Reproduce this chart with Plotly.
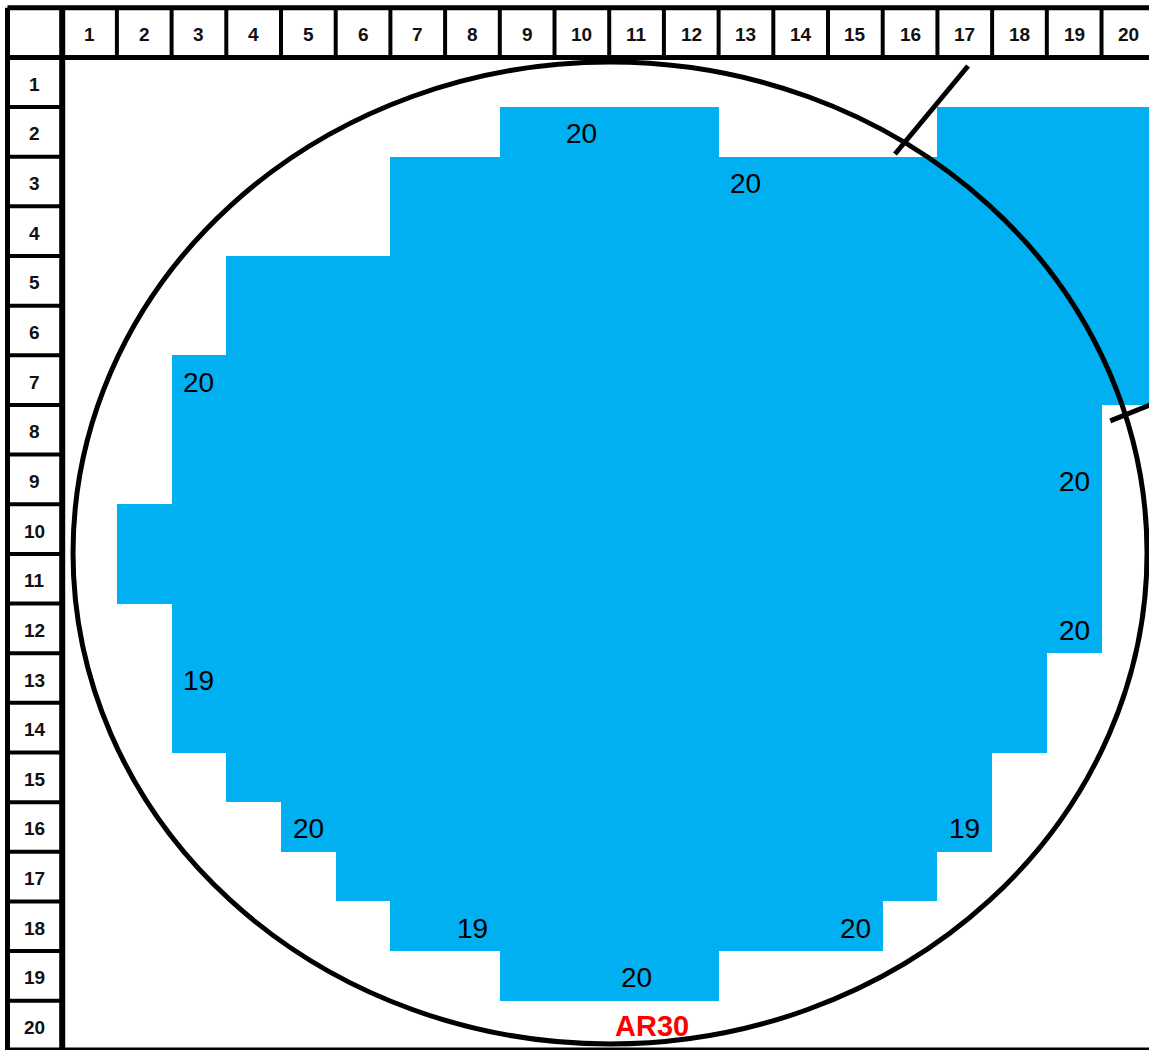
import plotly.graph_objects as go

# ---------------- data ----------------
n_cols = 20
n_rows = 20
column_labels = [str(i) for i in range(1, 21)]
row_labels = [str(i) for i in range(1, 21)]

# filled (blue) dies per row: list of (first column, last column) segments
row_numbers = list(range(1, 21))
filled_segments = [
    [],                 # row 1
    [(9, 12), (17, 20)],  # row 2
    [(7, 20)],          # row 3
    [(7, 20)],          # row 4
    [(4, 20)],          # row 5
    [(4, 20)],          # row 6
    [(3, 20)],          # row 7
    [(3, 19)],          # row 8
    [(3, 19)],          # row 9
    [(2, 19)],          # row 10
    [(2, 19)],          # row 11
    [(3, 19)],          # row 12
    [(3, 18)],          # row 13
    [(3, 18)],          # row 14
    [(4, 17)],          # row 15
    [(5, 17)],          # row 16
    [(6, 16)],          # row 17
    [(7, 15)],          # row 18
    [(9, 12)],          # row 19
    [],                 # row 20
]

# die count labels
label_rows = [2, 3, 7, 9, 12, 13, 16, 16, 18, 18, 19]
label_cols = [10, 13, 3, 19, 19, 3, 5, 17, 8, 15, 11]
label_values = ["20", "20", "20", "20", "20", "19", "20", "19", "19", "20", "20"]

wafer_name = "AR30"
wafer_name_row = 20
wafer_name_col = 11

# wafer outline (in cell units)
wafer_cx, wafer_cy = 10.515, 10.482
wafer_rx, wafer_ry = 9.817, 9.889
notch_lines = [((17.06, 0.673), (15.725, 2.446)), ((19.66, 7.82), (20.59, 7.41))]

BLUE = "#00B0F0"
FONT = "Liberation Sans, Arial, sans-serif"

# ---------------- build grid ----------------
z = []
for r, segs in zip(row_numbers, filled_segments):
    row = [None] * n_cols
    for a, b in segs:
        for c in range(a, b + 1):
            row[c - 1] = 1
    z.append(row)

fig = go.Figure()
fig.add_trace(go.Heatmap(
    z=z, x=list(range(1, n_cols + 1)), y=row_numbers,
    colorscale=[[0, BLUE], [1, BLUE]], showscale=False,
    hoverinfo="skip", xgap=0, ygap=0, zmin=0, zmax=1,
))

annotations = []
# die count labels
for r, c, v in zip(label_rows, label_cols, label_values):
    annotations.append(dict(x=c, y=r, xref="x", yref="y", text=v, showarrow=False,
                            yshift=-2, font=dict(family=FONT, size=28, color="black")))
# header labels
for i, lab in enumerate(column_labels):
    annotations.append(dict(x=i + 1, y=0, xref="x", yref="y", text="<b>" + lab + "</b>",
                            showarrow=False, yshift=-2,
                            font=dict(family=FONT, size=19, color="#111111")))
for i, lab in enumerate(row_labels):
    annotations.append(dict(x=0, y=i + 1, xref="x", yref="y", text="<b>" + lab + "</b>",
                            showarrow=False, yshift=-2,
                            font=dict(family=FONT, size=19, color="#111111")))
# wafer name
annotations.append(dict(
    x=wafer_name_col - 0.5, y=wafer_name_row, xref="x", yref="y",
    text="<b>" + wafer_name + "</b>", showarrow=False, xanchor="left", xshift=4, yshift=0,
    font=dict(family=FONT, size=29, color="#FF0000"),
))

shapes = []
# header cell borders
for c in range(0, n_cols + 1):
    shapes.append(dict(type="line", x0=c + 0.5, x1=c + 0.5, y0=-0.5, y1=0.5,
                       line=dict(color="black", width=4)))
for r in range(1, n_rows + 1):
    shapes.append(dict(type="line", x0=-0.5, x1=0.5, y0=r + 0.5, y1=r + 0.5,
                       line=dict(color="black", width=4)))
# thick outer/header lines
shapes.append(dict(type="line", x0=-0.5, x1=n_cols + 1, y0=-0.5, y1=-0.5, line=dict(color="black", width=5)))
shapes.append(dict(type="line", x0=-0.5, x1=n_cols + 1, y0=0.5, y1=0.5, line=dict(color="black", width=5)))
shapes.append(dict(type="line", x0=-0.5, x1=-0.5, y0=-0.5, y1=n_rows + 0.5, line=dict(color="black", width=5)))
shapes.append(dict(type="line", x0=0.5, x1=0.5, y0=-0.5, y1=n_rows + 0.5, line=dict(color="black", width=6)))
shapes.append(dict(type="line", x0=-0.5, x1=n_cols + 1, y0=n_rows + 0.5, y1=n_rows + 0.5, line=dict(color="black", width=6)))

# wafer circle
shapes.append(dict(type="circle", x0=wafer_cx - wafer_rx, x1=wafer_cx + wafer_rx,
                   y0=wafer_cy - wafer_ry, y1=wafer_cy + wafer_ry,
                   line=dict(color="black", width=5), layer="above"))
for (xa, ya), (xb, yb) in notch_lines:
    shapes.append(dict(type="line", x0=xa, y0=ya, x1=xb, y1=yb,
                       line=dict(color="black", width=5), layer="above"))

fig.update_layout(
    width=1149, height=1050,
    margin=dict(l=0, r=0, t=0, b=0),
    paper_bgcolor="white", plot_bgcolor="white",
    shapes=shapes,
    annotations=annotations,
    showlegend=False,
    xaxis=dict(range=[-0.637, 20.368], visible=False, showgrid=False, zeroline=False, fixedrange=True),
    yaxis=dict(range=[20.492, -0.656], visible=False, showgrid=False, zeroline=False, fixedrange=True),
)

fig.write_html("out.html", config={"displayModeBar": False},
               post_script="document.body.style.margin='0';document.body.style.overflow='hidden';")
